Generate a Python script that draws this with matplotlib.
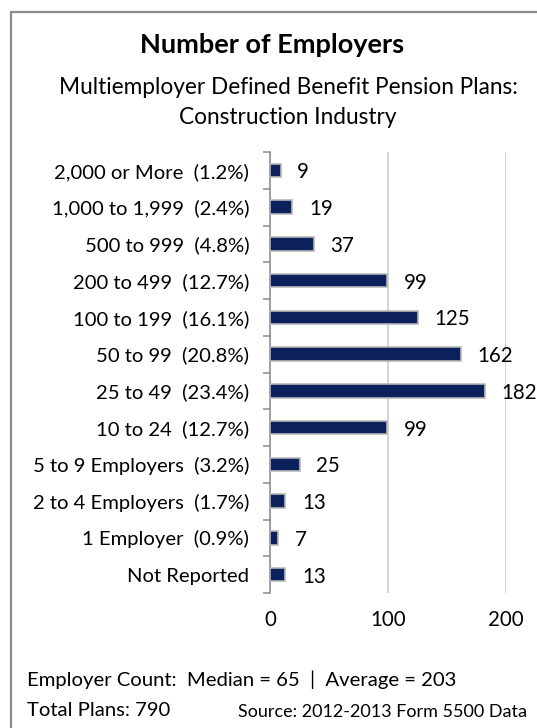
import matplotlib.pyplot as plt
from matplotlib.patches import Rectangle
import numpy as np

plt.rcParams['font.family'] = ['Lato', 'DejaVu Sans']

categories = ['2,000 or More  (1.2%)', '1,000 to 1,999  (2.4%)', '500 to 999  (4.8%)',
              '200 to 499  (12.7%)', '100 to 199  (16.1%)', '50 to 99  (20.8%)',
              '25 to 49  (23.4%)', '10 to 24  (12.7%)', '5 to 9 Employers  (3.2%)',
              '2 to 4 Employers  (1.7%)', '1 Employer  (0.9%)', 'Not Reported']
plans = [9, 19, 37, 99, 125, 162, 182, 99, 25, 13, 7, 13]
xticks = [0, 100, 200]

W, H = 537, 728
fig = plt.figure(figsize=(W / 100, H / 100), dpi=100)

# outer frame (cut off at right and bottom like the source image)
fig.patches.append(Rectangle((11 / W, -0.1), 1.2, 1 - 12 / H + 0.1, transform=fig.transFigure,
                             fill=False, edgecolor='#8c8c8c', lw=1.6))

fig.text(272 / W, 1 - 45 / H, 'Number of Employers', ha='center', va='center',
         fontsize=19.5, fontweight='bold')
fig.text(288 / W, 1 - 88 / H, 'Multiemployer Defined Benefit Pension Plans:', ha='center',
         va='center', fontsize=16.3)
fig.text(288 / W, 1 - 117 / H, 'Construction Industry', ha='center', va='center', fontsize=16.3)

ax = fig.add_axes([270 / W, 1 - 593 / H, (506 - 270) / W, (593 - 152) / H])
y = np.arange(len(categories))
ax.barh(y, plans, height=0.37, color='#0c215c', edgecolor='#b8b8b8', linewidth=1.2, zorder=3)
for yi, v in zip(y, plans):
    ax.annotate(str(v), (v, yi), xytext=(12, -1.5), textcoords='offset points',
                ha='left', va='center', fontsize=14.8)

ax.set_ylim(len(categories) - 0.5, -0.5)
ax.set_xlim(0, 200)
ax.set_xticks(xticks)
ax.set_xticklabels([str(t) for t in xticks], fontsize=14.8)
ax.tick_params(axis='x', length=0, pad=12)
ax.grid(axis='x', color='#c8c8c8', lw=1.1, zorder=0)

ax.set_yticks(np.arange(-0.5, len(categories)), minor=False)
ax.set_yticklabels([])
ax.set_yticks(y, minor=True)
ax.set_yticklabels(categories, minor=True, fontsize=14.6)
ax.tick_params(axis='y', which='major', length=5, color='#8c8c8c', width=1.1)
ax.tick_params(axis='y', which='minor', length=0, pad=15)

for s in ['top', 'right', 'bottom']:
    ax.spines[s].set_visible(False)
ax.spines['left'].set_color('#8c8c8c')
ax.spines['left'].set_linewidth(1.1)

fig.text(27 / W, 1 - 680 / H, 'Employer Count:  Median = 65  |  Average = 203', ha='left',
         va='center', fontsize=14.6)
fig.text(27 / W, 1 - 711 / H, 'Total Plans: 790', ha='left', va='center', fontsize=14.6)
fig.text(527 / W, 1 - 712 / H, 'Source: 2012-2013 Form 5500 Data', ha='right', va='center',
         fontsize=13)

fig.savefig('out.png', dpi=100)
